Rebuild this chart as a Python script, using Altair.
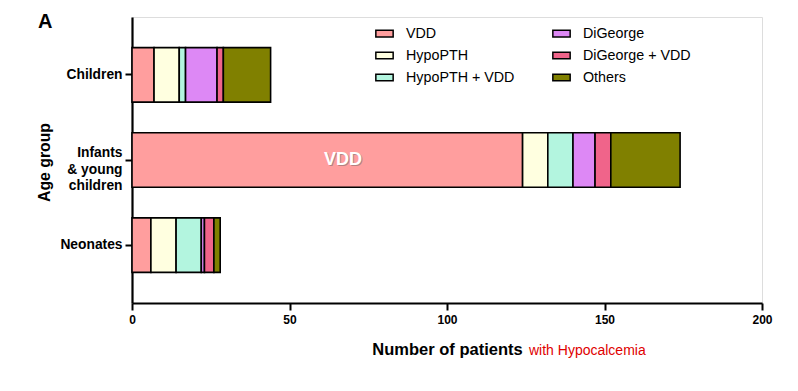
import altair as alt
import pandas as pd

groups = ["Children", "Infants & young children", "Neonates"]
categories = ["VDD", "HypoPTH", "HypoPTH + VDD", "DiGeorge", "DiGeorge + VDD", "Others"]
colors = ["#FF9E9E", "#FFFFE0", "#B3F5DF", "#DD88F5", "#F0648A", "#808000"]
values = {
    "VDD": [7, 124, 6],
    "HypoPTH": [8, 8, 8],
    "HypoPTH + VDD": [2, 8, 8],
    "DiGeorge": [10, 7, 1],
    "DiGeorge + VDD": [2, 5, 3],
    "Others": [15, 22, 2],
}
x_ticks = [0, 50, 100, 150, 200]

rows = []
for ci, cat in enumerate(categories):
    for gi, g in enumerate(groups):
        rows.append({"group": g, "category": cat, "n": values[cat][gi], "ord": ci})
df = pd.DataFrame(rows)

font = "Liberation Sans"

bars = alt.Chart(df).mark_bar(stroke="black", strokeWidth=1.6).encode(
    x=alt.X("sum(n):Q", scale=alt.Scale(domain=[0, 200], nice=False),
            axis=alt.Axis(values=x_ticks, title="Number of patients", grid=False,
                          domainColor="black", domainWidth=2.2, tickColor="black", tickWidth=2,
                          tickSize=7, labelFlush=False, labelFont=font, labelFontSize=12,
                          labelFontWeight="bold", labelColor="black", labelPadding=4,
                          titleFont=font, titleFontSize=16.5, titleFontWeight="bold",
                          titleColor="black", titlePadding=16)),
    y=alt.Y("group:N", sort=groups, scale=alt.Scale(paddingInner=0.36, paddingOuter=0.36),
            axis=alt.Axis(title="Age group", grid=False, domainColor="black", domainWidth=2.2,
                          tickColor="black", tickWidth=2, tickSize=7, labelPadding=3,
                          labelFont=font, labelFontSize=13.8, labelFontWeight="bold",
                          labelColor="black", labelLineHeight=16.5,
                          labelOffset=alt.condition("datum.label == 'Infants & young children'",
                                                    alt.value(-7), alt.value(0)),
                          labelExpr="datum.label == 'Infants & young children' ? ['Infants', '& young', 'children'] : datum.label",
                          titleFont=font, titleFontSize=15.8, titleFontWeight="bold",
                          titleColor="black", titleX=-80, titleY=145, titleAngle=270,
                          titleAlign="center")),
    color=alt.Color("category:N", scale=alt.Scale(domain=categories, range=colors),
                    legend=alt.Legend(title=None, orient="none", legendX=243, legendY=7,
                                      columns=2, columnPadding=34, rowPadding=5,
                                      symbolType="M-1,-0.38H1V0.38H-1Z", symbolSize=300,
                                      symbolStrokeColor="black", symbolStrokeWidth=1.5,
                                      labelFont=font, labelFontSize=14.3, labelColor="black",
                                      labelOffset=12)),
    order=alt.Order("ord:Q"),
)

lbl_df = pd.DataFrame({"group": ["Infants & young children"], "x": [67], "t": ["VDD"]})
shadow = alt.Chart(lbl_df).mark_text(font=font, fontSize=18, fontWeight="bold", color="#7a6a6a",
                                     opacity=0.55, dx=1, dy=1).encode(
    x="x:Q", y=alt.Y("group:N", sort=groups), text="t:N")
vdd_text = alt.Chart(lbl_df).mark_text(font=font, fontSize=18, fontWeight="bold", color="white").encode(
    x="x:Q", y=alt.Y("group:N", sort=groups), text="t:N")

red = alt.Chart(pd.DataFrame({"t": ["with Hypocalcemia"]})).mark_text(
    font=font, fontSize=14, color="#E00000", align="left", baseline="middle").encode(
    x=alt.value(397), y=alt.value(334), text="t:N")

panel = alt.Chart(pd.DataFrame({"t": ["A"]})).mark_text(
    font=font, fontSize=20, fontWeight="bold", color="black", align="left", baseline="middle").encode(
    x=alt.value(-94), y=alt.value(5), text="t:N")

chart = alt.layer(bars, shadow, vdd_text, red, panel).properties(
    width=630, height=286,
    autosize=alt.AutoSizeParams(type="none"),
    padding={"left": 124, "top": 9, "right": 20, "bottom": 70},
).configure_view(stroke=None).configure(background="white")

chart.save("out.html", embed_options={"renderer": "svg", "actions": False})
